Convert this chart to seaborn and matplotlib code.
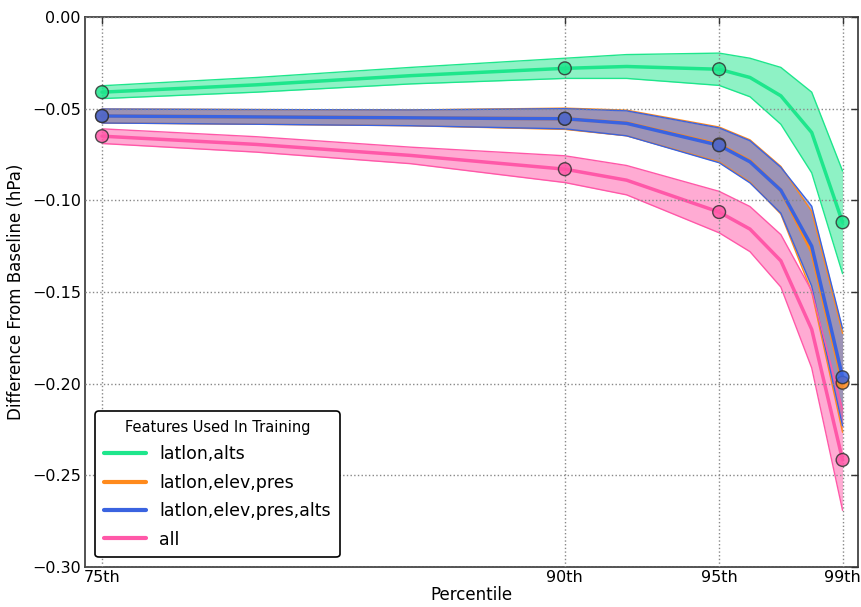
import numpy as np
import pandas as pd
import matplotlib
matplotlib.use("Agg")
import matplotlib.pyplot as plt
import seaborn as sns

percentiles = [75, 80, 85, 90, 92, 95, 96, 97, 98, 99]
marker_percentiles = [75, 90, 95, 99]
tick_labels = ["75th", "90th", "95th", "99th"]
y_ticks = [-0.30, -0.25, -0.20, -0.15, -0.10, -0.05, 0.00]
y_tick_labels = ["\u22120.30", "\u22120.25", "\u22120.20", "\u22120.15", "\u22120.10", "\u22120.05", "0.00"]
series_names = ["latlon,alts", "latlon,elev,pres", "latlon,elev,pres,alts", "all"]

alts_mean = [-0.041, -0.037, -0.032, -0.028, -0.027, -0.0285, -0.033, -0.043, -0.063, -0.112]
alts_spread = [0.0035, 0.004, 0.0045, 0.0055, 0.0065, 0.0088, 0.0105, 0.0155, 0.022, 0.028]

elev_mean = [-0.054, -0.0545, -0.055, -0.0555, -0.0578, -0.0695, -0.0785, -0.0945, -0.128, -0.1995]
elev_spread = [0.0038, 0.004, 0.0043, 0.0058, 0.007, 0.0095, 0.0115, 0.013, 0.022, 0.027]

elevalts_mean = [-0.054, -0.0545, -0.055, -0.0555, -0.058, -0.070, -0.079, -0.0945, -0.125, -0.1965]
elevalts_spread = [0.0038, 0.004, 0.0043, 0.0055, 0.0068, 0.0095, 0.0115, 0.0125, 0.0218, 0.0265]

all_mean = [-0.065, -0.0695, -0.0755, -0.083, -0.089, -0.1064, -0.1157, -0.133, -0.1704, -0.2416]
all_spread = [0.004, 0.0042, 0.0045, 0.0073, 0.008, 0.0113, 0.0123, 0.0143, 0.021, 0.0275]

colors = ["#1ee68c", "#ff8a1c", "#3a63e0", "#ff58a8"]

means = [alts_mean, elev_mean, elevalts_mean, all_mean]
spreads = [alts_spread, elev_spread, elevalts_spread, all_spread]

rows = []
for name, m, s in zip(series_names, means, spreads):
    for p, mv, sv in zip(percentiles, m, s):
        rows.append({"Percentile": p, "value": mv, "spread": sv, "features": name})
df = pd.DataFrame(rows)
dfm = df[df["Percentile"].isin(marker_percentiles)]

sns.set_style("white")
plt.rcParams["font.family"] = ["DejaVu Sans"]
plt.rcParams["text.color"] = "black"
plt.rcParams["axes.labelcolor"] = "black"
plt.rcParams["xtick.color"] = "black"
plt.rcParams["ytick.color"] = "black"

fig = plt.figure(figsize=(8.62, 6.07), dpi=100)
ax = fig.add_axes([85 / 862, 1 - 567 / 607, (858 - 85) / 862, (567 - 17) / 607])

palette = dict(zip(series_names, colors))

for name in series_names:
    d = df[df["features"] == name]
    lo = d["value"] - d["spread"]
    hi = d["value"] + d["spread"]
    c = palette[name]
    ax.fill_between(d["Percentile"], lo, hi, color=c, alpha=0.5, lw=0, zorder=1)
    ax.plot(d["Percentile"], lo, color=c, lw=1.0, zorder=1.5)
    ax.plot(d["Percentile"], hi, color=c, lw=1.0, zorder=1.5)

sns.lineplot(data=df, x="Percentile", y="value", hue="features", palette=palette,
             hue_order=series_names, lw=2.5, ax=ax, legend=True, zorder=2)
sns.scatterplot(data=dfm, x="Percentile", y="value", hue="features", palette=palette,
                hue_order=series_names, s=85, edgecolor="#333333", linewidth=1.0,
                alpha=0.85, ax=ax, legend=False, zorder=3)

ax.set_xlim(74.45, 99.5)
ax.set_ylim(-0.30, 0.0)
ax.set_xticks(marker_percentiles)
ax.set_xticklabels(tick_labels)
ax.set_yticks(y_ticks)
ax.set_yticklabels(y_tick_labels)
ax.grid(True, linestyle=":", color="#888888", linewidth=1.0)
ax.set_axisbelow(False)
ax.tick_params(direction="in", length=5, width=1, labelsize=11.5, top=True, right=True,
               color="#333333", pad=3)
ax.tick_params(axis="x", pad=2)
for sp in ax.spines.values():
    sp.set_color("#444444")
    sp.set_linewidth(1.3)

ax.set_xlabel("Percentile", fontsize=12, labelpad=1)
ax.set_ylabel("Difference From Baseline (hPa)", fontsize=12, labelpad=5)

handles, labels = ax.get_legend_handles_labels()
for h in handles:
    h.set_linewidth(3)
leg = ax.legend(handles, labels, title="Features Used In Training", loc="lower left",
                fontsize=12.5, title_fontsize=10.5, frameon=True, fancybox=True,
                edgecolor="black", framealpha=1, handlelength=2.4, borderpad=0.5,
                labelspacing=0.6, bbox_to_anchor=(0.002, 0.002))
leg.get_frame().set_linewidth(1.2)

fig.savefig("out.png", dpi=100)
